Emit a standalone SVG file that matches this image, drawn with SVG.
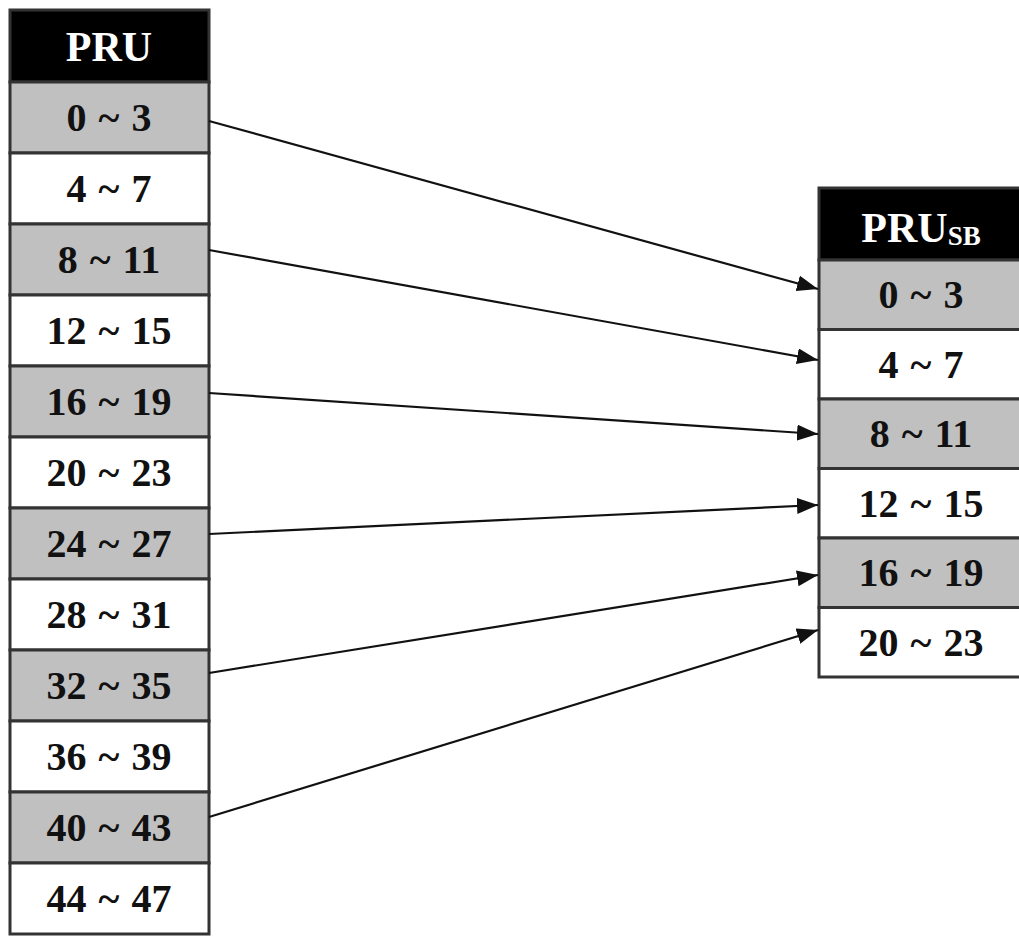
<svg xmlns="http://www.w3.org/2000/svg" width="1019" height="938" viewBox="0 0 1019 938">
<defs>
<style>
.hdr{fill:#000;stroke:#333;stroke-width:3}
.g{fill:#c0c0c0;stroke:#333;stroke-width:3}
.w{fill:#fff;stroke:#333;stroke-width:3}
.t{font-family:"Liberation Serif","Times New Roman",serif;font-weight:bold;font-size:40px;fill:#111;text-anchor:middle;word-spacing:2px}
.ht{font-family:"Liberation Serif","Times New Roman",serif;font-weight:bold;font-size:42px;fill:#fff;text-anchor:middle}
.sub{font-size:27px}
.c{stroke:#111;stroke-width:2.2;fill:none;marker-end:url(#ah)}
</style>
<marker id="ah" markerUnits="userSpaceOnUse" markerWidth="21" markerHeight="16" refX="21" refY="8" orient="auto">
<path d="M0,0 L21,8 L0,16 z" fill="#111"/>
</marker>
</defs>
<rect width="1019" height="938" fill="#fff"/>
<g id="pru">
<g id="pru-header"><rect class="hdr" x="10" y="10" width="199" height="72"/><text class="ht" x="109" y="61">PRU</text></g>
<g id="pru-0"><rect class="g" x="10" y="82" width="199" height="71"/><text class="t" x="109" y="131">0 ~ 3</text></g>
<g id="pru-1"><rect class="w" x="10" y="153" width="199" height="71"/><text class="t" x="109" y="202">4 ~ 7</text></g>
<g id="pru-2"><rect class="g" x="10" y="224" width="199" height="71"/><text class="t" x="109" y="273">8 ~ 11</text></g>
<g id="pru-3"><rect class="w" x="10" y="295" width="199" height="71"/><text class="t" x="109" y="344">12 ~ 15</text></g>
<g id="pru-4"><rect class="g" x="10" y="366" width="199" height="71"/><text class="t" x="109" y="415">16 ~ 19</text></g>
<g id="pru-5"><rect class="w" x="10" y="437" width="199" height="71"/><text class="t" x="109" y="486">20 ~ 23</text></g>
<g id="pru-6"><rect class="g" x="10" y="508" width="199" height="71"/><text class="t" x="109" y="557">24 ~ 27</text></g>
<g id="pru-7"><rect class="w" x="10" y="579" width="199" height="71"/><text class="t" x="109" y="628">28 ~ 31</text></g>
<g id="pru-8"><rect class="g" x="10" y="650" width="199" height="71"/><text class="t" x="109" y="699">32 ~ 35</text></g>
<g id="pru-9"><rect class="w" x="10" y="721" width="199" height="71"/><text class="t" x="109" y="770">36 ~ 39</text></g>
<g id="pru-10"><rect class="g" x="10" y="792" width="199" height="71"/><text class="t" x="109" y="841">40 ~ 43</text></g>
<g id="pru-11"><rect class="w" x="10" y="863" width="199" height="71"/><text class="t" x="109" y="912">44 ~ 47</text></g>
</g>
<g id="prusb">
<g id="prusb-header"><rect class="hdr" x="819" y="188" width="204" height="72"/><text class="ht" x="921" y="242">PRU<tspan class="sub" dy="3">SB</tspan></text></g>
<g id="prusb-0"><rect class="g" x="819" y="260" width="204" height="69.5"/><text class="t" x="921" y="308">0 ~ 3</text></g>
<g id="prusb-1"><rect class="w" x="819" y="329.5" width="204" height="69.5"/><text class="t" x="921" y="378">4 ~ 7</text></g>
<g id="prusb-2"><rect class="g" x="819" y="399" width="204" height="69.5"/><text class="t" x="921" y="447">8 ~ 11</text></g>
<g id="prusb-3"><rect class="w" x="819" y="468.5" width="204" height="69.5"/><text class="t" x="921" y="517">12 ~ 15</text></g>
<g id="prusb-4"><rect class="g" x="819" y="538" width="204" height="69.5"/><text class="t" x="921" y="586">16 ~ 19</text></g>
<g id="prusb-5"><rect class="w" x="819" y="607.5" width="204" height="69.5"/><text class="t" x="921" y="656">20 ~ 23</text></g>
</g>
<g id="connectors">
<line class="c" x1="209" y1="121" x2="818" y2="289"/>
<line class="c" x1="209" y1="250" x2="818" y2="360"/>
<line class="c" x1="209" y1="393" x2="818" y2="434"/>
<line class="c" x1="209" y1="534" x2="818" y2="505"/>
<line class="c" x1="209" y1="673" x2="818" y2="575"/>
<line class="c" x1="209" y1="817" x2="818" y2="630"/>
</g>
</svg>
